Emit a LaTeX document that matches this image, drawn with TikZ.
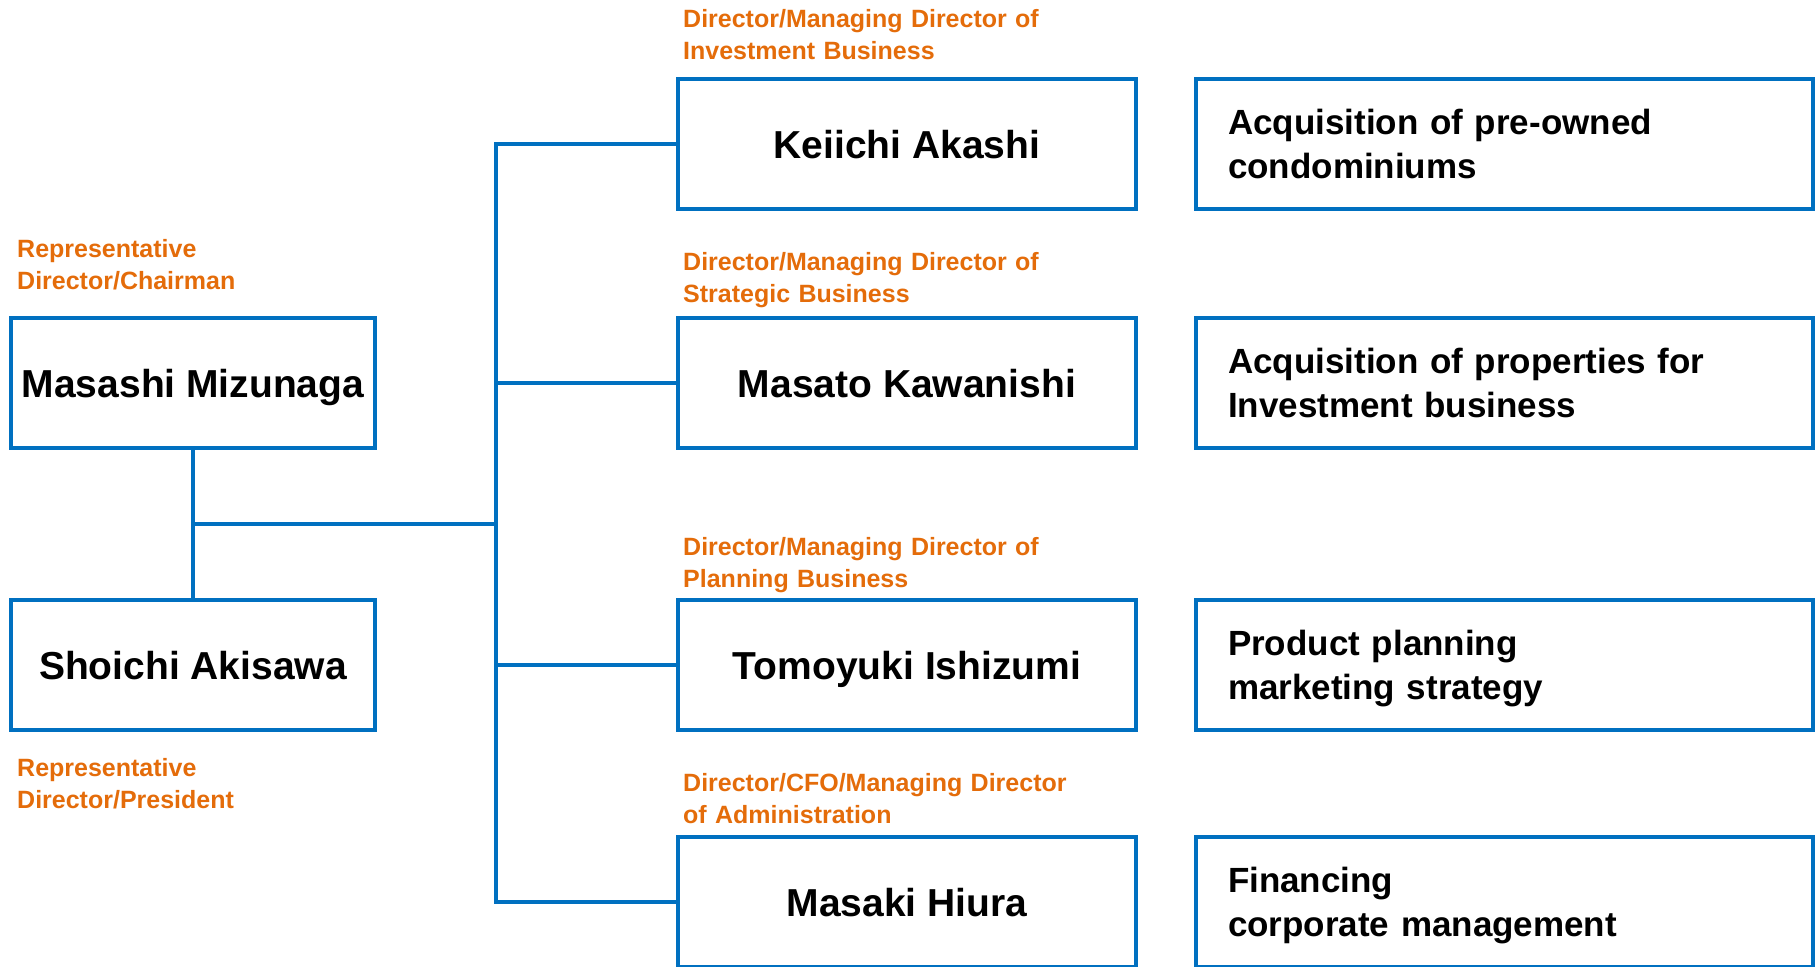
\documentclass[tikz,border=0pt]{standalone}
\usepackage{fontspec}
\setmainfont{Liberation Sans}
\usetikzlibrary{positioning,calc}
\definecolor{chartblue}{RGB}{0,112,192}
\definecolor{rolecolor}{RGB}{228,108,10}
\tikzset{
    person/.style={rectangle, draw=chartblue, line width=3.5pt, outer sep=0pt,
                   minimum width=458pt, minimum height=130pt, inner sep=0pt,
                   font=\fontsize{39}{47}\selectfont\bfseries, text height=28pt, text depth=0pt},
    chair/.style={person, minimum width=364pt},
    duty/.style={rectangle, draw=chartblue, line width=3.5pt, outer sep=0pt,
                 minimum width=617pt, minimum height=130pt, inner xsep=32pt, inner ysep=0pt,
                 text width=553pt, align=left,
                 font=\fontsize{35}{44}\selectfont\bfseries, text height=25pt, text depth=44pt},
    role/.style={text=rolecolor, font=\fontsize{25}{32}\selectfont\bfseries,
                 text width=400pt, align=left, inner sep=0pt},
    link/.style={draw=chartblue, line width=3.5pt},
}
\begin{document}
\begin{tikzpicture}[x=1pt, y=-1pt]
    \useasboundingbox (0,0) rectangle (1819,966);

    % Directors
    \node[person] (akashi) at (907,144) {Keiichi Akashi};
    \node[person, below=109pt of akashi]    (kawanishi) {Masato Kawanishi};
    \node[person, below=152pt of kawanishi] (ishizumi)  {Tomoyuki Ishizumi};
    \node[person, below=107pt of ishizumi]  (hiura)     {Masaki Hiura};

    % Representative directors
    \node[chair, left=303pt of kawanishi] (mizunaga) {Masashi Mizunaga};
    \node[chair, left=303pt of ishizumi]  (akisawa)  {Shoichi Akisawa};

    % Duties
    \node[duty, right=60pt of akashi]    (preowned)  {Acquisition of pre-owned\\condominiums};
    \node[duty, right=60pt of kawanishi] (properties){Acquisition of properties for\\Investment business};
    \node[duty, right=60pt of ishizumi]  (planning)  {Product planning\\marketing strategy};
    \node[duty, right=60pt of hiura]     (financing) {Financing\\corporate management};

    % Titles
    \node[role, above right=60.5pt and 6pt of mizunaga.north west, anchor=base west] (chairman)
        {Representative\\Director/Chairman};
    \node[role, below right=46pt and 6pt of akisawa.south west, anchor=base west] (president)
        {Representative\\Director/President};
    \node[role, above right=51pt and 5pt of akashi.north west, anchor=base west] (akashi role)
        {Director/Managing Director of\\Investment Business};
    \node[role, above right=48pt and 5pt of kawanishi.north west, anchor=base west] (kawanishi role)
        {Director/Managing Director of\\Strategic Business};
    \node[role, above right=45pt and 5pt of ishizumi.north west, anchor=base west] (ishizumi role)
        {Director/Managing Director of\\Planning Business};
    \node[role, above right=46pt and 5pt of hiura.north west, anchor=base west] (hiura role)
        {Director/CFO/Managing Director\\of Administration};

    % Connectors
    \coordinate (bus)   at ($(mizunaga.east)!0.4!(kawanishi.west)$);
    \coordinate (split) at ($(mizunaga.south)!0.5!(akisawa.north)$);
    \draw[link] (mizunaga) -- (akisawa);
    \draw[link] (split) -- (split -| bus);
    \draw[link] (akashi.west) -- (akashi.west -| bus) -- (hiura.west -| bus) -- (hiura.west);
    \foreach \n in {kawanishi, ishizumi}
        \draw[link] (\n.west -| bus) -- (\n.west);
\end{tikzpicture}
\end{document}
